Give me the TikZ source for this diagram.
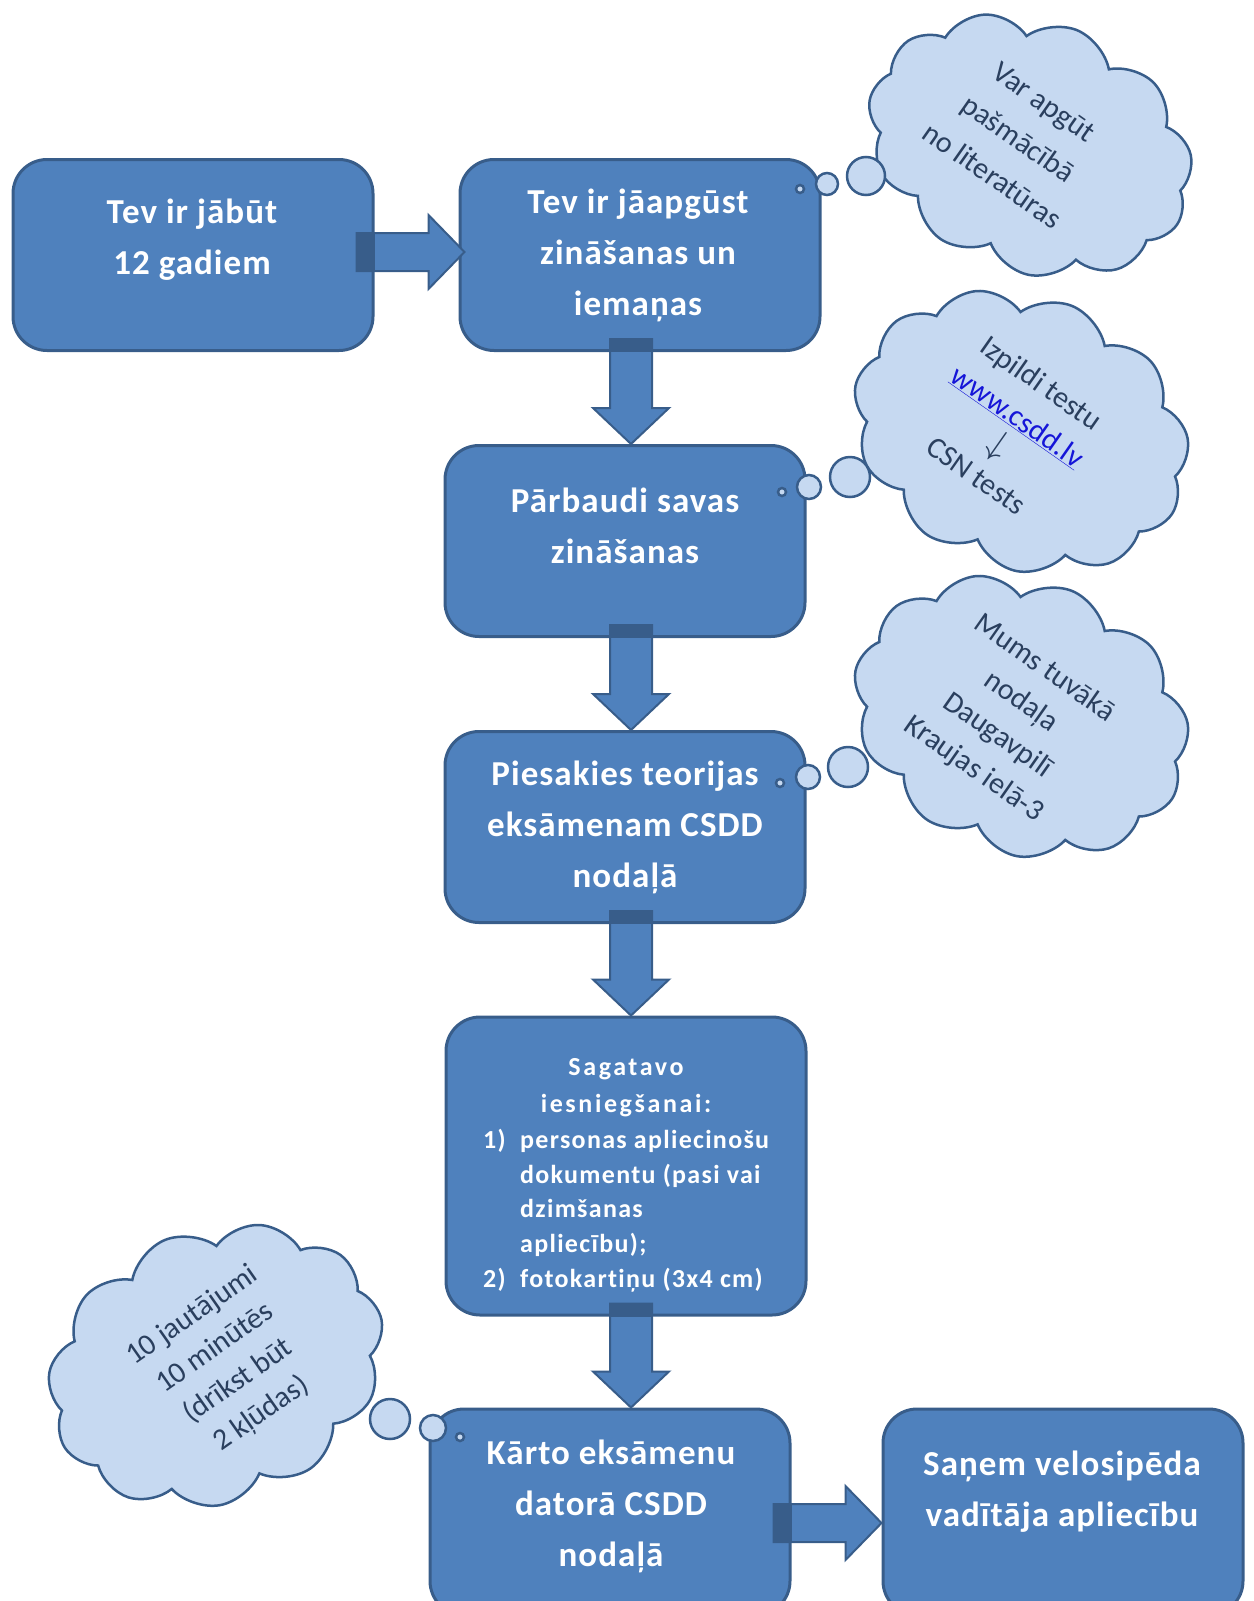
\documentclass[tikz,border=0pt]{standalone}
\usepackage{fontspec}
\setmainfont{Carlito}[Ligatures=NoCommon]
\usetikzlibrary{shapes.symbols,calc}
\definecolor{boxfill}{HTML}{4F81BD}
\definecolor{boxline}{HTML}{385D8A}
\definecolor{cloudfill}{HTML}{C6D9F1}
\definecolor{cloudtext}{HTML}{2A3F5E}
\definecolor{linkblue}{HTML}{1515D8}
\newcommand\vblock[3]{%
  \draw[blockarrow] let \p1=(#1.south), \p2=(#2.north), \n1={\x2+#3} in
    (\n1-21pt,\y1+13pt) -- (\n1+21pt,\y1+13pt) -- (\n1+21pt,\y2+36pt) -- (\n1+38pt,\y2+36pt)
    -- (\n1,\y2) -- (\n1-38pt,\y2+36pt) -- (\n1-21pt,\y2+36pt) -- cycle;
  \fill[boxline] let \p1=(#1.south), \p2=(#2.north), \n1={\x2+#3} in
    (\n1-22pt,\y1+13pt) rectangle (\n1+22pt,\y1);
}
\newcommand\hblock[4]{%
  \draw[blockarrow] let \p1=(#1.east), \p2=(#2.west), \n1={\y1+#3}, \n2={\x2+#4} in
    (\x1-18pt,\n1+19pt) -- (\n2-36pt,\n1+19pt) -- (\n2-36pt,\n1+37pt) -- (\n2,\n1)
    -- (\n2-36pt,\n1-37pt) -- (\n2-36pt,\n1-19pt) -- (\x1-18pt,\n1-19pt) -- cycle;
  \fill[boxline] let \p1=(#1.east), \n1={\y1+#3} in
    (\x1-18pt,\n1+20pt) rectangle (\x1,\n1-20pt);
}
\begin{document}
\begin{tikzpicture}[x=1pt,y=-1pt,
  box/.style={draw=boxline, line width=3pt, fill=boxfill, rounded corners=34pt,
    minimum width=360pt, minimum height=191pt, inner sep=0pt},
  boxtext/.style={text=white, font=\bfseries\fontsize{35}{51}\selectfont\addfontfeature{LetterSpace=3}, align=center, inner sep=0pt},
  listtext/.style={text=white, font=\bfseries\fontsize{26}{35}\selectfont\addfontfeature{LetterSpace=5}, inner sep=0pt, anchor=base west},
  titletext/.style={text=white, font=\bfseries\fontsize{26}{35}\selectfont\addfontfeature{LetterSpace=10}, inner sep=0pt, anchor=base},
  blockarrow/.style={fill=boxfill, draw=boxline, line width=2pt, line join=miter},
  cloudshape/.style={cloud, cloud puffs=11, cloud puff arc=115, cloud ignores aspect,
    draw=boxline, line width=2.5pt, fill=cloudfill, minimum width=345pt, minimum height=272pt, inner sep=0pt},
  bubble/.style={circle, draw=boxline, line width=2.5pt, fill=cloudfill, inner sep=0pt},
  cloudtxt/.style={text=cloudtext, font=\fontsize{30}{41}\selectfont, align=center, inner sep=0pt}
]
\useasboundingbox (0,0) rectangle (1253,1601);

% boxes
\node[box] (b1) at (193,255) {};
\node[box] (b2) at (640,255) {};
\node[box] (b3) at (625,541) {};
\node[box] (b4) at (625,827) {};
\node[box, minimum height=298pt] (b5) at (626,1166) {};
\node[box, minimum height=206pt] (b6) at (610,1512) {};
\node[box, minimum height=206pt] (b7) at (1063,1512) {};

% block arrows
\hblock{b1}{b2}{3pt}{6pt}
\vblock{b2}{b3}{6pt}
\vblock{b3}{b4}{6pt}
\vblock{b4}{b5}{5pt}
\vblock{b5}{b6}{21pt}
\hblock{b6}{b7}{-11pt}{0pt}

% box texts
\node[boxtext] (t1) at (192,240) {Tev ir jābūt\\12 gadiem};
\node[boxtext] (t2) at (638,255) {Tev ir jāapgūst\\zināšanas un\\iemaņas};
\node[boxtext] (t3) at (625,526) {Pārbaudi savas\\zināšanas};
\node[boxtext] (t4) at (625,827) {Piesakies teorijas\\eksāmenam CSDD\\nodaļā};
\node[boxtext] (t6) at (611,1506) {Kārto eksāmenu\\datorā CSDD\\nodaļā};
\node[boxtext] (t7) at (1062,1492) {Saņem velosipēda\\vadītāja apliecību};

\node[titletext] (s1) at (626,1075) {Sagatavo};
\node[titletext] (s2) at (626,1112) {iesniegšanai:};
\node[listtext] (n1) at (483,1148) {1)};
\node[listtext] (l1) at (520,1148) {personas apliecinošu};
\node[listtext] (l2) at (520,1183) {dokumentu (pasi vai};
\node[listtext] (l3) at (520,1217) {dzimšanas};
\node[listtext] (l4) at (520,1252) {apliecību);};
\node[listtext] (n2) at (483,1287) {2)};
\node[listtext] (l5) at (520,1287) {fotokartiņu (3x4 cm)};

% clouds
\node[cloudshape, rotate=-22, minimum width=335pt, minimum height=250pt] (c1) at (1030,146) {};
\node[bubble, minimum size=38pt] (c1a) at (866,176) {};
\node[bubble, minimum size=22pt] (c1b) at (827,184) {};
\node[bubble, minimum size=8pt] (c1c) at (800,189) {};
\node[cloudtxt, rotate=-35, font=\fontsize{30}{45}\selectfont] (ct1) at (1018,139) {Var apgūt\\pašmācībā\\no literatūras};

\node[cloudshape, rotate=-22] (c2) at (1021,432) {};
\node[bubble, minimum size=40pt] (c2a) at (850,477) {};
\node[bubble, minimum size=24pt] (c2b) at (809,487) {};
\node[bubble, minimum size=8pt] (c2c) at (782,492) {};
\node[cloudtxt, rotate=-35] (ct2) at (1009,429) {Izpildi testu\\\textcolor{linkblue}{\underline{www.csdd.lv}}\\[-6pt]\scalebox{1.5}{$\downarrow$}\\[-4pt]CSN tests};

\node[cloudshape, rotate=-22] (c3) at (1021,717) {};
\node[bubble, minimum size=40pt] (c3a) at (848,767) {};
\node[bubble, minimum size=24pt] (c3b) at (808,777) {};
\node[bubble, minimum size=8pt] (c3c) at (780,783) {};
\node[cloudtxt, rotate=-35] (ct3) at (1009,719) {Mums tuvākā\\nodaļa\\Daugavpilī\\Kraujas ielā-3};

\node[cloudshape, rotate=22] (c4) at (216,1366) {};
\node[bubble, minimum size=40pt] (c4a) at (390,1419) {};
\node[bubble, minimum size=26pt] (c4b) at (433,1428) {};
\node[bubble, minimum size=8pt] (c4c) at (460,1437) {};
\node[cloudtxt, rotate=35, font=\fontsize{30}{40}\selectfont] (ct4) at (227,1365) {10 jautājumi\\10 minūtēs\\(drīkst būt\\2 kļūdas)};
\end{tikzpicture}
\end{document}
